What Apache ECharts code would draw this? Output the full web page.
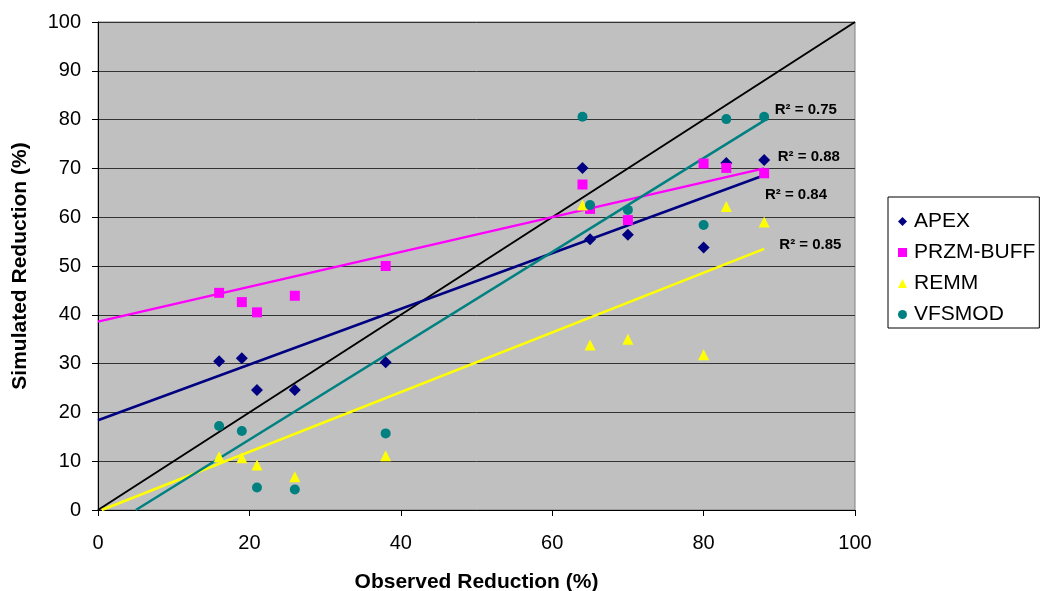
<!DOCTYPE html>
<html lang="en">
<head>
<meta charset="UTF-8">
<script src="https://cdn.jsdelivr.net/npm/echarts@6/dist/echarts.min.js"></script>
<title>Observed vs simulated reduction</title>
<style>
  html, body { margin: 0; padding: 0; background: #fff; }
  #chart { width: 1043px; height: 591px; }
</style>
</head>
<body>
<div id="chart"></div>
<script>
  // observed reduction (%) shared by all models
  var observed = [16, 19, 21, 26, 38, 64, 65, 70, 80, 83, 88];

  // simulated reduction (%) per model
  var apex     = [30.5, 31.1, 24.6, 24.6, 30.3, 70.1, 55.5, 56.4, 53.8, 71.1, 71.7];
  var przmBuff = [44.5, 42.6, 40.5, 43.9, 50.0, 66.7, 61.7, 59.4, 71.0, 70.1, 69.0];
  var remm     = [10.9, 10.7, 9.2, 6.8, 11.1, 62.5, 33.8, 35.0, 31.8, 62.2, 59.0];
  var vfsmod   = [17.2, 16.2, 4.6, 4.2, 15.7, 80.6, 62.5, 61.5, 58.4, 80.1, 80.6];

  // trendline end points as drawn (x, y)
  var apexTrend = [[0, 18.4], [88, 68.6]];
  var przmTrend = [[0, 38.6], [88, 70.0]];
  var remmTrend = [[0.5, 0], [88, 53.5]];
  var vfsTrend  = [[5, 0], [88, 79.8]];
  var oneToOne  = [[0, 0], [100, 100]];

  var r2Text = ['R² = 0.84', 'R² = 0.88', 'R² = 0.85', 'R² = 0.75'];

  var xTicks = [0, 20, 40, 60, 80, 100];
  var yTicks = [0, 10, 20, 30, 40, 50, 60, 70, 80, 90, 100];

  function pairs(xs, ys) {
    var out = [];
    for (var i = 0; i < xs.length; i++) out.push([xs[i], ys[i]]);
    return out;
  }

  var chart = echarts.init(document.getElementById('chart'));

  function scatter(name, vals, symbol, size, color) {
    return {
      name: name,
      type: 'scatter',
      data: pairs(observed, vals),
      symbol: symbol,
      symbolSize: size,
      itemStyle: { color: color, opacity: 1 },
      z: 5
    };
  }

  function trend(name, pts, color, width, label, at) {
    var s = {
      name: name,
      type: 'line',
      data: pts,
      symbol: 'none',
      lineStyle: { color: color, width: width },
      z: 3
    };
    if (label) {
      s.markPoint = {
        symbol: 'circle',
        symbolSize: 0,
        data: [{ coord: at }],
        label: {
          show: true,
          position: 'right',
          distance: 0,
          formatter: label,
          color: '#000',
          fontSize: 15,
          fontWeight: 'bold'
        }
      };
    }
    return s;
  }

  var option = {
    animation: false,
    textStyle: { fontFamily: 'Liberation Sans, Arial, sans-serif' },
    grid: {
      left: 98, right: 188, top: 22, bottom: 81,
      outerBoundsMode: 'none',
      containLabel: false,
      show: true,
      backgroundColor: '#C0C0C0',
      borderColor: '#808080',
      borderWidth: 1
    },
    legend: {
      data: ['APEX', 'PRZM-BUFF', 'REMM', 'VFSMOD'],
      orient: 'vertical',
      left: 888,
      top: 197,
      padding: [14, 4, 3, 10],
      itemGap: 10,
      itemWidth: 9,
      itemHeight: 9,
      borderColor: '#000',
      borderWidth: 1,
      borderRadius: 0,
      backgroundColor: '#fff',
      textStyle: { fontSize: 21, color: '#000', padding: [0, 0, 0, 2] }
    },
    xAxis: {
      type: 'value',
      min: 0, max: 100, interval: 20,
      name: 'Observed Reduction (%)',
      nameLocation: 'middle',
      nameGap: 62,
      nameTextStyle: { fontSize: 21, fontWeight: 'bold', color: '#000' },
      axisLine: { show: true, onZero: false, lineStyle: { color: '#000', width: 1 } },
      axisTick: { show: true, length: 6, lineStyle: { color: '#000' } },
      axisLabel: { fontSize: 20, color: '#000', margin: 23, customValues: xTicks },
      splitLine: { show: false }
    },
    yAxis: {
      type: 'value',
      min: 0, max: 100, interval: 10,
      name: 'Simulated Reduction (%)',
      nameLocation: 'middle',
      nameGap: 67,
      nameTextStyle: { fontSize: 21, fontWeight: 'bold', color: '#000' },
      axisLine: { show: true, onZero: false, lineStyle: { color: '#000', width: 1 } },
      axisTick: { show: true, length: 6, lineStyle: { color: '#000' } },
      axisLabel: { fontSize: 20, color: '#000', margin: 17, customValues: yTicks },
      splitLine: { show: true, lineStyle: { color: '#333', width: 1 } }
    },
    series: [
      trend('1:1', oneToOne, '#000', 2),
      trend('APEX fit', apexTrend, '#000080', 2.5, r2Text[0], [88.1, 64.5]),
      trend('PRZM-BUFF fit', przmTrend, '#FF00FF', 2.5, r2Text[1], [89.8, 72.3]),
      trend('REMM fit', remmTrend, '#FFFF00', 2.5, r2Text[2], [90.0, 54.3]),
      trend('VFSMOD fit', vfsTrend, '#008080', 2.5, r2Text[3], [89.4, 82.0]),
      scatter('APEX', apex, 'diamond', 12, '#000080'),
      scatter('PRZM-BUFF', przmBuff, 'rect', 10, '#FF00FF'),
      scatter('REMM', remm, 'triangle', 11, '#FFFF00'),
      scatter('VFSMOD', vfsmod, 'circle', 10, '#008080')
    ]
  };

  chart.setOption(option);
</script>
</body>
</html>
